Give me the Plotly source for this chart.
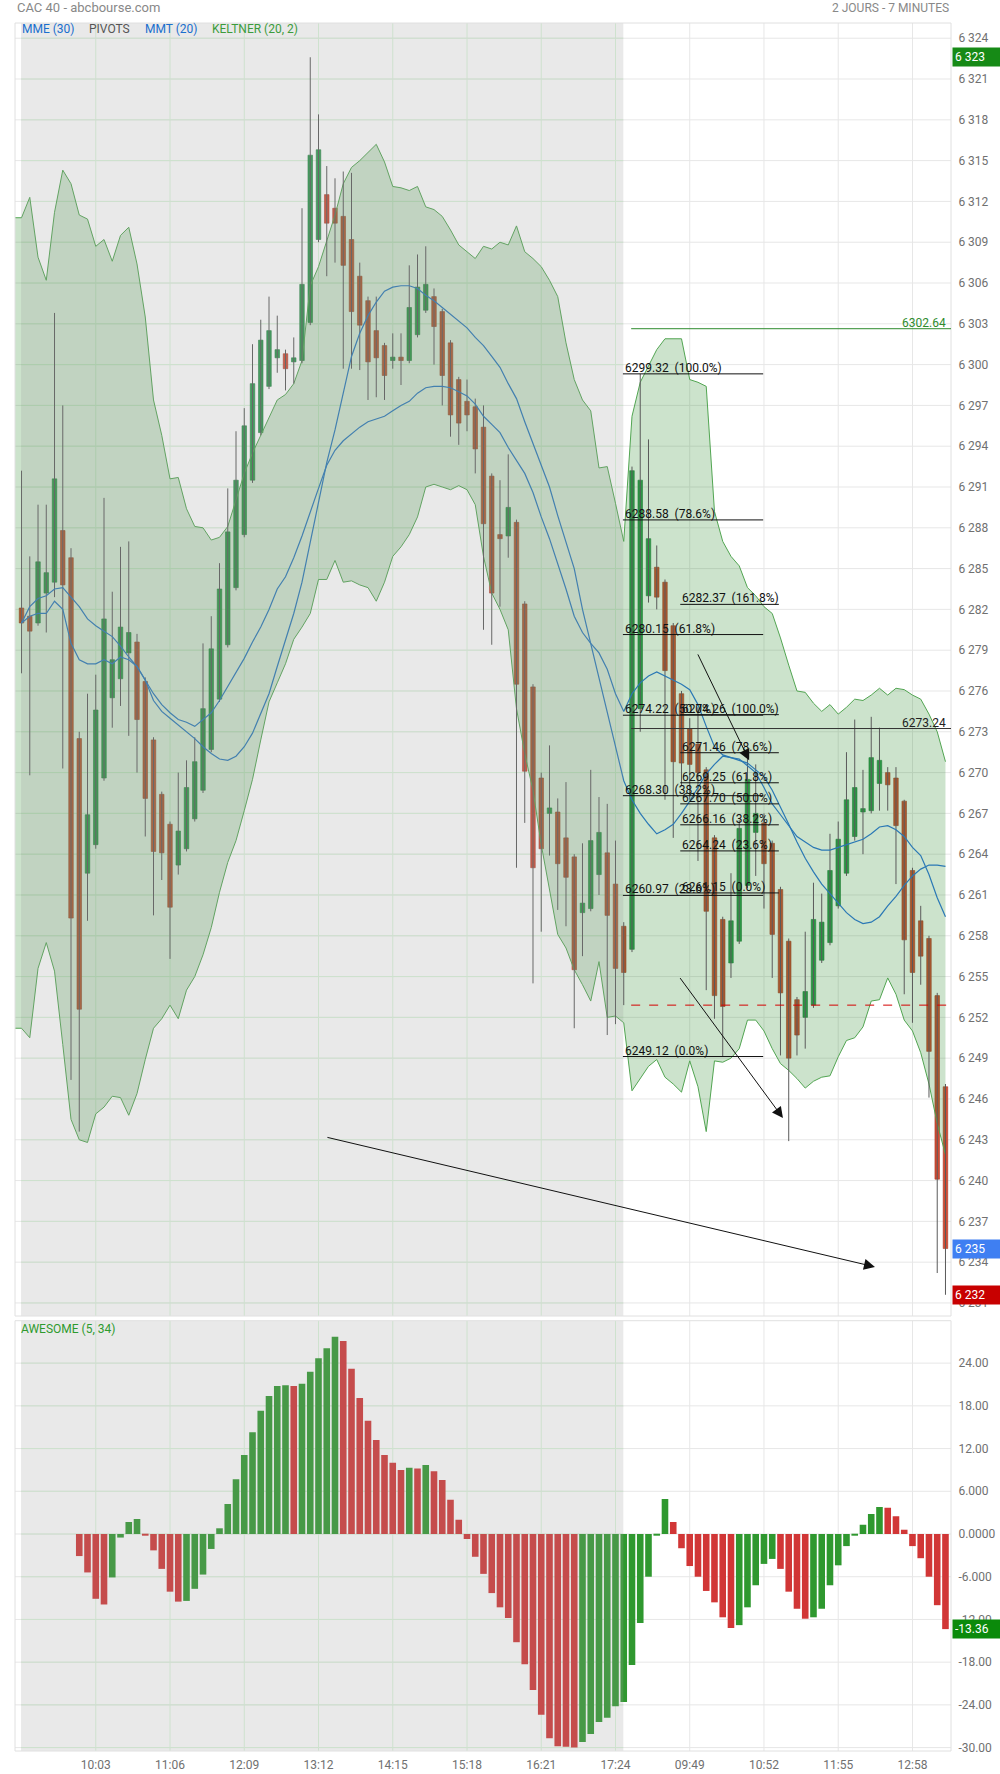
import plotly.graph_objects as go

# ---------------- data ----------------
time_labels = ["10:03", "11:06", "12:09", "13:12", "14:15", "15:18", "16:21", "17:24",
               "09:49", "10:52", "11:55", "12:58"]
time_pos = [9, 18, 27, 36, 45, 54, 63, 72, 81, 90, 99, 108]

opens = [6282.1, 6281.5, 6281.0, 6283.2, 6284.0, 6287.8, 6285.8, 6272.5, 6262.6, 6264.7,
         6269.6, 6275.5, 6276.9, 6278.8, 6279.6, 6276.7, 6272.4, 6268.4, 6266.2, 6263.2,
         6264.4, 6266.6, 6268.7, 6271.7, 6275.4, 6279.4, 6283.6, 6287.5, 6291.5, 6295.0,
         6298.4, 6300.5, 6300.8, 6300.2, 6300.3, 6303.1, 6309.2, 6312.5, 6311.5, 6310.9,
         6309.2, 6306.5, 6304.7, 6302.5, 6301.4, 6300.3, 6300.4, 6300.3, 6302.2, 6304.0,
         6305.0, 6303.9, 6301.6, 6298.9, 6297.3, 6296.9, 6295.4, 6291.8, 6287.5, 6287.4,
         6288.4, 6282.4, 6276.3, 6269.6, 6267.0, 6267.1, 6265.2, 6263.8, 6259.7, 6260.0,
         6262.5, 6264.1, 6261.8, 6258.7, 6257.0, 6274.7, 6283.0, 6285.1, 6284.0, 6280.8,
         6275.8, 6273.2, 6272.1, 6270.2, 6265.2, 6259.2, 6256.0, 6257.6, 6261.7, 6265.6,
         6266.3, 6264.8, 6261.4, 6257.6, 6253.3, 6252.0, 6252.9, 6256.2, 6257.5, 6260.2,
         6262.6, 6265.3, 6267.1, 6267.2, 6269.2, 6270.0, 6269.6, 6267.9, 6262.8, 6259.1,
         6257.8, 6253.6, 6246.9]
highs = [6292.2, 6285.9, 6289.7, 6289.7, 6303.8, 6297.0, 6286.5, 6273.0, 6275.8, 6277.2,
         6290.2, 6283.3, 6286.6, 6287.0, 6280.2, 6277.0, 6272.6, 6268.6, 6266.4, 6270.0,
         6270.9, 6272.6, 6279.5, 6281.5, 6285.4, 6290.9, 6295.1, 6296.8, 6301.5, 6303.3,
         6305.0, 6303.6, 6301.1, 6302.0, 6311.5, 6322.6, 6318.4, 6314.6, 6313.7, 6314.2,
         6314.1, 6307.5, 6305.0, 6305.0, 6301.6, 6302.3, 6302.3, 6307.3, 6308.1, 6308.7,
         6305.6, 6304.1, 6301.8, 6299.1, 6298.9, 6297.5, 6297.0, 6292.0, 6291.5, 6293.4,
         6288.6, 6282.6, 6276.5, 6270.0, 6272.0, 6268.1, 6269.3, 6264.0, 6264.8, 6270.2,
         6268.2, 6267.7, 6265.0, 6259.0, 6292.5, 6299.32, 6294.5, 6286.7, 6284.2, 6281.0,
         6276.0, 6274.0, 6274.8, 6270.4, 6265.4, 6259.4, 6262.6, 6266.5, 6271.4, 6270.6,
         6267.0, 6265.0, 6261.6, 6257.8, 6253.5, 6258.3, 6261.9, 6261.1, 6265.5, 6266.4,
         6271.5, 6273.9, 6270.2, 6274.1, 6273.3, 6270.4, 6270.4, 6268.0, 6263.0, 6260.2,
         6258.0, 6253.8, 6247.1]
lows = [6277.3, 6269.8, 6280.8, 6280.3, 6282.9, 6270.3, 6247.4, 6243.6, 6259.1, 6264.4,
        6269.4, 6273.3, 6274.9, 6272.7, 6270.0, 6265.3, 6259.5, 6262.1, 6256.3, 6262.5,
        6264.2, 6266.4, 6268.5, 6271.5, 6275.2, 6279.2, 6283.4, 6287.3, 6291.3, 6294.8,
        6298.2, 6299.4, 6298.1, 6298.6, 6300.1, 6302.9, 6309.0, 6306.5, 6307.5, 6299.7,
        6299.7, 6299.6, 6297.4, 6297.6, 6297.4, 6299.7, 6298.5, 6300.1, 6302.0, 6303.8,
        6300.0, 6297.0, 6294.7, 6294.1, 6295.1, 6292.0, 6280.5, 6279.4, 6282.2, 6285.8,
        6263.0, 6266.3, 6254.5, 6258.3, 6263.9, 6259.9, 6258.7, 6251.2, 6256.5, 6259.8,
        6261.0, 6250.7, 6251.5, 6252.9, 6256.8, 6273.0, 6282.5, 6282.0, 6268.0, 6265.2,
        6269.0, 6268.0, 6263.5, 6254.0, 6251.9, 6249.12, 6254.9, 6257.4, 6261.5, 6262.4,
        6260.0, 6254.9, 6249.2, 6242.9, 6249.2, 6249.7, 6252.7, 6256.0, 6257.3, 6260.0,
        6262.4, 6265.0, 6264.0, 6267.0, 6267.2, 6267.2, 6261.8, 6253.7, 6251.6, 6254.4,
        6246.1, 6233.2, 6231.6]
closes = [6281.0, 6280.4, 6285.5, 6284.7, 6291.6, 6283.8, 6259.3, 6252.6, 6266.9, 6274.6,
          6281.3, 6278.3, 6280.7, 6280.3, 6273.9, 6268.1, 6264.2, 6264.1, 6260.1, 6265.7,
          6268.9, 6270.8, 6274.7, 6279.1, 6283.5, 6287.7, 6291.5, 6295.5, 6298.6, 6301.8,
          6302.5, 6301.1, 6299.7, 6300.5, 6305.9, 6315.4, 6315.8, 6310.4, 6310.4, 6307.3,
          6303.9, 6302.9, 6300.2, 6300.5, 6299.2, 6300.4, 6300.3, 6304.2, 6305.7, 6305.9,
          6302.8, 6299.2, 6296.3, 6295.7, 6296.3, 6293.8, 6288.3, 6283.2, 6287.2, 6289.5,
          6276.5, 6270.1, 6263.0, 6264.4, 6267.4, 6263.3, 6262.3, 6255.5, 6260.4, 6265.0,
          6265.6, 6259.5, 6255.6, 6255.3, 6292.2, 6291.5, 6287.2, 6282.9, 6277.5, 6270.8,
          6270.7, 6270.6, 6270.0, 6259.8, 6253.6, 6252.8, 6259.1, 6265.9, 6269.5, 6267.0,
          6263.3, 6258.1, 6253.8, 6249.0, 6250.7, 6253.9, 6259.2, 6259.0, 6262.8, 6265.1,
          6268.0, 6268.9, 6267.3, 6271.1, 6270.9, 6269.1, 6266.1, 6257.7, 6255.3, 6256.5,
          6249.5, 6240.1, 6235.0]

keltner_up = [6310.8, 6312.3, 6307.9, 6306.2, 6311.2, 6314.3, 6313.3, 6311.0, 6310.7, 6308.7,
              6309.2, 6307.6, 6309.5, 6310.1, 6307.4, 6303.5, 6297.4, 6294.8, 6291.6, 6291.7,
              6289.4, 6288.1, 6288.0, 6287.1, 6287.3, 6288.1, 6290.0, 6292.0, 6293.5, 6294.8,
              6296.2, 6297.4, 6297.8, 6298.6, 6300.3, 6305.8, 6307.2, 6309.1, 6311.0, 6313.3,
              6314.5, 6315.0, 6315.6, 6316.2, 6314.9, 6313.1, 6313.0, 6312.8, 6313.1, 6311.6,
              6311.4, 6310.9, 6309.9, 6308.8, 6308.3, 6307.8, 6308.7, 6308.5, 6309.0, 6308.8,
              6310.2, 6308.3, 6307.8, 6307.2, 6306.2, 6305.0, 6301.6, 6298.9, 6297.4, 6296.6,
              6292.4, 6292.5, 6289.8, 6287.0, 6296.2, 6298.7, 6299.9, 6301.1, 6301.9, 6301.9,
              6301.9, 6298.9, 6298.7, 6298.4, 6289.2, 6287.0, 6285.9, 6285.2, 6283.6, 6283.0,
              6282.2, 6281.7, 6279.9, 6277.9, 6276.0, 6275.9, 6275.1, 6274.5, 6275.0, 6274.3,
              6274.8, 6275.4, 6275.3, 6275.7, 6276.2, 6275.7, 6276.2, 6276.1, 6275.7, 6275.4,
              6274.3, 6273.0, 6270.8]
keltner_lo = [6251.2, 6250.5, 6255.6, 6257.5, 6255.4, 6250.0, 6244.5, 6243.0, 6242.8, 6244.9,
              6245.4, 6246.2, 6246.1, 6244.8, 6246.4, 6248.9, 6251.2, 6251.9, 6252.9, 6251.9,
              6254.0, 6255.0, 6256.6, 6258.6, 6261.2, 6263.4, 6265.0, 6267.2, 6269.5, 6272.4,
              6275.2, 6276.6, 6278.0, 6279.8, 6280.7, 6281.7, 6284.2, 6284.2, 6285.6, 6284.0,
              6284.1, 6283.8, 6283.6, 6282.6, 6284.0, 6285.9, 6286.6, 6287.5, 6288.8, 6291.0,
              6291.2, 6291.0, 6290.8, 6291.1, 6290.8, 6289.7, 6285.9, 6283.2, 6282.0, 6280.5,
              6274.7, 6271.4, 6268.7, 6264.7, 6261.4, 6258.1, 6257.1, 6255.5, 6254.4, 6253.2,
              6256.1, 6252.0, 6252.1, 6251.6, 6246.6, 6247.5, 6248.4, 6248.9, 6247.6, 6247.1,
              6246.5, 6248.8, 6246.9, 6243.6, 6248.8, 6248.7, 6249.0, 6249.7, 6251.8, 6251.8,
              6251.0, 6249.7, 6248.6, 6248.1, 6247.5, 6246.8, 6247.3, 6247.6, 6247.7, 6249.1,
              6250.3, 6250.5, 6251.3, 6253.2, 6253.3, 6254.9, 6253.7, 6251.8, 6251.0, 6249.4,
              6247.1, 6244.2, 6241.9]
mme30 = [6281.0, 6282.2, 6282.8, 6283.0, 6283.5, 6283.6, 6282.9, 6282.2, 6281.3, 6280.8,
         6280.4, 6280.0, 6279.3, 6278.5, 6277.8, 6276.8, 6275.8, 6275.0, 6274.4, 6273.9,
         6273.7, 6273.4, 6273.9, 6274.4, 6275.3, 6276.3, 6277.4, 6278.4, 6279.6, 6280.7,
         6282.0, 6283.5, 6284.4, 6285.8, 6287.4, 6289.2, 6290.9, 6292.6, 6293.7, 6294.4,
         6294.9, 6295.4, 6295.8, 6296.0, 6296.2, 6296.6, 6297.0, 6297.3, 6297.9, 6298.3,
         6298.4, 6298.4, 6298.3, 6298.0, 6297.7, 6297.1, 6296.2, 6295.6, 6295.0, 6293.9,
         6292.9, 6292.0, 6290.6, 6288.8, 6287.2, 6285.4, 6283.5, 6281.5, 6280.3, 6279.5,
         6278.8, 6277.6, 6275.8, 6274.5, 6275.8, 6276.6, 6277.1, 6277.4, 6277.1, 6276.8,
         6276.5, 6276.1, 6275.0, 6273.4, 6271.9, 6271.3, 6271.1, 6270.9, 6270.7, 6270.2,
         6269.7, 6268.7, 6267.5, 6266.2, 6264.9, 6263.7, 6262.7, 6261.8, 6261.1, 6260.4,
         6259.7, 6259.2, 6258.9, 6259.0, 6259.4, 6260.2, 6260.9, 6261.7, 6262.4, 6262.9,
         6263.2, 6263.2, 6263.1]
mmt20 = [6281.0, 6281.5, 6281.7, 6281.7, 6282.6, 6282.0, 6279.5, 6278.3, 6278.0, 6278.0,
         6278.3, 6278.0, 6278.5, 6278.3, 6277.8, 6276.8, 6275.3, 6274.5, 6274.0, 6273.5,
         6273.0, 6272.5, 6271.9, 6271.4, 6271.0, 6270.9, 6271.2, 6271.9, 6272.9, 6274.4,
         6275.8, 6277.8, 6279.8, 6281.7, 6284.0, 6287.0, 6290.0, 6292.8, 6295.2, 6298.0,
         6300.6, 6302.3, 6303.6, 6304.6, 6305.4, 6305.7, 6305.8, 6305.8, 6305.6, 6305.1,
         6304.7, 6304.2, 6303.7, 6303.2, 6302.7, 6302.0, 6301.4, 6300.6, 6299.8, 6298.6,
         6297.5, 6295.8, 6294.2, 6292.6, 6291.0, 6288.9, 6287.0, 6285.0, 6282.0, 6279.5,
         6276.9, 6274.5, 6271.8, 6269.4, 6268.0, 6267.0, 6266.2, 6265.5, 6265.8, 6266.2,
         6267.0, 6267.9, 6268.9, 6269.9, 6270.6, 6271.2, 6271.1, 6271.0, 6270.5, 6270.0,
         6268.9, 6267.7, 6266.9, 6266.1, 6265.3, 6264.9, 6264.5, 6264.3, 6264.3, 6264.5,
         6264.7, 6264.9, 6265.1, 6265.5, 6266.0, 6266.1, 6265.8, 6265.3, 6264.5, 6263.9,
         6262.5, 6260.8, 6259.4]

ao_first = 7
ao_vals = [-3.1, -5.4, -9.1, -9.9, -6.1, -0.5, 1.7, 2.1, -0.2, -2.3,
           -4.9, -8.1, -9.5, -9.4, -7.7, -5.7, -2.1, 0.8, 4.2, 7.7,
           11.1, 14.3, 17.3, 19.4, 20.8, 20.9, 20.8, 21.1, 22.8, 24.7,
           26.1, 27.7, 27.1, 23.2, 19.1, 15.9, 13.2, 11.1, 10.0, 9.0,
           9.3, 9.2, 9.7, 8.8, 7.6, 4.8, 2.0, -0.7, -3.2, -5.6,
           -8.3, -10.3, -11.8, -15.2, -18.3, -21.9, -25.4, -28.7, -29.8, -29.9,
           -30.0, -29.2, -28.1, -26.4, -25.8, -24.2, -23.6, -18.4, -12.5, -6.0,
           -0.2, 4.9, 1.7, -2.0, -4.5, -6.0, -8.0, -9.6, -11.7, -13.2,
           -12.8, -10.3, -7.2, -4.2, -3.5, -4.9, -8.1, -10.5, -11.9, -11.7,
           -10.5, -7.2, -4.4, -1.7, -0.2, 1.3, 2.8, 3.8, 3.7, 2.5,
           0.6, -1.7, -3.4, -6.0, -10.0, -13.36]

fib1_levels = [6299.32, 6288.58, 6280.15, 6274.22, 6268.30, 6260.97, 6249.12]
fib1_pcts = ["100.0%", "78.6%", "61.8%", "50.0%", "38.2%", "23.6%", "0.0%"]
fib1_span = [72.9, 89.9]
fib2_levels = [6282.37, 6274.26, 6271.46, 6269.25, 6267.70, 6266.16, 6264.24, 6261.15]
fib2_pcts = ["161.8%", "100.0%", "78.6%", "61.8%", "50.0%", "38.2%", "23.6%", "0.0%"]
fib2_span = [79.85, 91.8]

level_high = 6302.64
level_mid = 6273.24
level_pivot = 6252.9
levels_start = 73.9

# arrows: (tail_x, tail_y, head_x, head_y)
arrows = [(36.9, 6243.2, 103.45, 6233.65),
          (79.7, 6255.0, 92.3, 6244.6),
          (81.9, 6278.8, 88.2, 6270.9)]

day1_span = [-0.06, 72.95]

# ---------------- geometry / style ----------------
X_RANGE = [-0.79, 112.67]
Y_MAIN = [6230.04, 6325.12]
Y_OSC = [-30.48, 29.96]
main_ticks = list(range(6231, 6325, 3))
osc_ticks = [-30, -24, -18, -12, -6, 0, 6, 12, 18, 24]
osc_ticktext = ["-30.00", "-24.00", "-18.00", "-12.00", "-6.000", "0.0000",
                "6.000", "12.00", "18.00", "24.00"]

FONT = "Roboto"
GREEN_C, GREEN_E = "#2e9b4f", "#23803f"
RED_C, RED_E = "#d24b33", "#a93a29"
BLUE = "#2a78b5"
KELT_LINE = "#52a552"
KELT_FILL = "rgba(35,132,35,0.23)"
GRID = "#e7e7e7"
GRID_D1 = "#dcf6dc"
OVERLAY = "rgba(157,157,157,0.224)"

n = len(opens)
idx = list(range(n))

fig = go.Figure()

# Keltner band
xb = [X_RANGE[0]] + idx
fig.add_trace(go.Scatter(x=xb, y=[keltner_up[0]] + keltner_up, mode="lines",
                         line=dict(color=KELT_LINE, width=1), hoverinfo="skip"))
fig.add_trace(go.Scatter(x=xb, y=[keltner_lo[0]] + keltner_lo, mode="lines",
                         line=dict(color=KELT_LINE, width=1), fill="tonexty",
                         fillcolor=KELT_FILL, hoverinfo="skip"))

# wicks
wx, wy = [], []
for i in idx:
    wx += [i, i, None]
    wy += [lows[i], highs[i], None]
fig.add_trace(go.Scatter(x=wx, y=wy, mode="lines", line=dict(color="#5a5a5a", width=1),
                         hoverinfo="skip"))

# bodies
bases, heights, cols, edges = [], [], [], []
for o, c in zip(opens, closes):
    bases.append(min(o, c))
    heights.append(max(abs(c - o), 0.25))
    up = c >= o
    cols.append(GREEN_C if up else RED_C)
    edges.append(GREEN_E if up else RED_E)
fig.add_trace(go.Bar(x=idx, y=heights, base=bases, width=0.55,
                     marker=dict(color=cols, line=dict(color=edges, width=0.6)),
                     hoverinfo="skip"))

# moving averages
fig.add_trace(go.Scatter(x=idx, y=mme30, mode="lines", line=dict(color=BLUE, width=1.2),
                         hoverinfo="skip"))
fig.add_trace(go.Scatter(x=idx, y=mmt20, mode="lines", line=dict(color=BLUE, width=1.2),
                         hoverinfo="skip"))

# Awesome oscillator
ao_x = list(range(ao_first, ao_first + len(ao_vals)))
ao_cols = []
for k, v in enumerate(ao_vals):
    ao_cols.append("#2f982f" if k > 0 and v > ao_vals[k - 1] else "#d13636")
fig.add_trace(go.Bar(x=ao_x, y=ao_vals, width=0.8, marker=dict(color=ao_cols, line=dict(width=0)),
                     yaxis="y2", hoverinfo="skip"))

# ---------------- shapes ----------------
shapes = []
for v in main_ticks:
    shapes.append(dict(type="line", xref="x", yref="y", x0=X_RANGE[0], x1=X_RANGE[1], y0=v, y1=v,
                       line=dict(color=GRID, width=1), layer="below"))
    shapes.append(dict(type="line", xref="x", yref="y", x0=day1_span[0], x1=day1_span[1], y0=v, y1=v,
                       line=dict(color=GRID_D1, width=1), layer="below"))
for v in osc_ticks:
    shapes.append(dict(type="line", xref="x", yref="y2", x0=X_RANGE[0], x1=X_RANGE[1], y0=v, y1=v,
                       line=dict(color=GRID, width=1), layer="below"))
    shapes.append(dict(type="line", xref="x", yref="y2", x0=day1_span[0], x1=day1_span[1], y0=v, y1=v,
                       line=dict(color=GRID_D1, width=1), layer="below"))
for t in time_pos:
    col = GRID_D1 if t <= day1_span[1] else GRID
    for yr in ["y domain", "y2 domain"]:
        shapes.append(dict(type="line", xref="x", yref=yr, x0=t, x1=t, y0=0, y1=1,
                           line=dict(color=col, width=1), layer="below"))

for yr in ["y domain", "y2 domain"]:
    shapes.append(dict(type="rect", xref="x", yref=yr, x0=day1_span[0], x1=day1_span[1], y0=0, y1=1,
                       fillcolor=OVERLAY, line=dict(width=0), layer="above"))
for yr in ["y domain", "y2 domain"]:
    shapes.append(dict(type="rect", xref="paper", yref=yr, x0=0, x1=1, y0=0, y1=1,
                       line=dict(color="#e0e0e0", width=1), layer="above"))

shapes.append(dict(type="line", xref="x", yref="y", x0=levels_start, x1=X_RANGE[1],
                   y0=level_high, y1=level_high, line=dict(color="#2e8b2e", width=1), layer="above"))
shapes.append(dict(type="line", xref="x", yref="y", x0=levels_start, x1=X_RANGE[1],
                   y0=level_mid, y1=level_mid, line=dict(color="#333333", width=1), layer="above"))
shapes.append(dict(type="line", xref="x", yref="y", x0=levels_start, x1=X_RANGE[1],
                   y0=level_pivot, y1=level_pivot, line=dict(color="#d40000", width=1, dash="dash"),
                   layer="above"))

for lv in fib1_levels:
    shapes.append(dict(type="line", xref="x", yref="y", x0=fib1_span[0], x1=fib1_span[1], y0=lv, y1=lv,
                       line=dict(color="#111111", width=1), layer="above"))
for lv in fib2_levels:
    shapes.append(dict(type="line", xref="x", yref="y", x0=fib2_span[0], x1=fib2_span[1], y0=lv, y1=lv,
                       line=dict(color="#111111", width=1), layer="above"))

# ---------------- annotations ----------------
PX_TOP, PX_BOT = 23, 1751


def py(px):
    return (PX_BOT - px) / (PX_BOT - PX_TOP)


def pxx(px):
    return (px - 15) / 936


ann = []
ann.append(dict(x=0, xref="paper", y=py(8), yref="paper", xanchor="left", yanchor="middle",
                text="CAC 40 - abcbourse.com", showarrow=False, font=dict(family=FONT, size=13, color="#888888")))
ann.append(dict(x=1, xref="paper", y=py(8), yref="paper", xanchor="right", yanchor="middle",
                text="2 JOURS - 7 MINUTES", showarrow=False, font=dict(family=FONT, size=12, color="#888888")))
legend_items = [("MME (30)", 20, "#1a6fce"), ("PIVOTS", 86.5, "#555555"),
                ("MMT (20)", 142.5, "#1a6fce"), ("KELTNER (20, 2)", 210, "#3c9c3c")]
for txt, px, col in legend_items:
    ann.append(dict(x=pxx(px), xref="paper", y=py(29), yref="paper", xanchor="left", yanchor="middle",
                    text=txt, showarrow=False, font=dict(family=FONT, size=12, color=col)))
ann.append(dict(x=pxx(19), xref="paper", y=py(1329), yref="paper", xanchor="left", yanchor="middle",
                text="AWESOME (5, 34)", showarrow=False, font=dict(family=FONT, size=12, color="#2e9a2e")))

for lv, pc in zip(fib1_levels, fib1_pcts):
    ann.append(dict(x=fib1_span[0], xref="x", y=lv, yref="y", xanchor="left", yanchor="bottom",
                    yshift=-3, text=f"{lv:.2f}\u00a0\u00a0({pc})", showarrow=False,
                    font=dict(family=FONT, size=12, color="#111111")))
for lv, pc in zip(fib2_levels, fib2_pcts):
    ann.append(dict(x=fib2_span[0], xref="x", y=lv, yref="y", xanchor="left", yanchor="bottom",
                    yshift=-3, text=f"{lv:.2f}\u00a0\u00a0({pc})", showarrow=False,
                    font=dict(family=FONT, size=12, color="#111111")))

ann.append(dict(x=1, xref="paper", xanchor="right", xshift=-3, y=level_high, yref="y", yanchor="bottom",
                yshift=-3, text=f"{level_high:.2f}", showarrow=False,
                font=dict(family=FONT, size=12, color="#2e8b2e")))
ann.append(dict(x=1, xref="paper", xanchor="right", xshift=-3, y=level_mid, yref="y", yanchor="bottom",
                yshift=-3, text=f"{level_mid:.2f}", showarrow=False,
                font=dict(family=FONT, size=12, color="#222222")))

for tx, ty, hx, hy in arrows:
    ann.append(dict(x=hx, y=hy, xref="x", yref="y", ax=tx, ay=ty, axref="x", ayref="y",
                    text="", showarrow=True, arrowhead=2, arrowsize=2.2, arrowwidth=1,
                    arrowcolor="#111111", standoff=0))


def fmt_price(v):
    return f"{int(round(v)):,}".replace(",", " ")


def vbox(y, yref, text, color):
    return dict(x=1, xref="paper", xanchor="left", xshift=1, y=y, yref=yref, yanchor="middle",
                text=text, showarrow=False, bgcolor=color, width=44, align="left", borderpad=2,
                font=dict(family=FONT, size=12, color="white"))


ann.append(vbox(max(highs), "y", fmt_price(max(highs)), "#168a16"))
ann.append(vbox(closes[-1], "y", fmt_price(closes[-1]), "#3f7ff2"))
ann.append(vbox(lows[-1], "y", fmt_price(lows[-1]), "#c80000"))
ann.append(vbox(ao_vals[-1], "y2", f"{ao_vals[-1]:.2f}", "#0b8a0b"))

fig.update_layout(
    width=1000, height=1774,
    margin=dict(l=15, r=49, t=PX_TOP, b=1774 - PX_BOT, autoexpand=False),
    plot_bgcolor="white", paper_bgcolor="white",
    showlegend=False, hovermode=False, barmode="overlay",
    font=dict(family=FONT, size=12, color="#707070"),
    xaxis=dict(domain=[0, 1], range=X_RANGE, anchor="y2", tickmode="array", tickvals=time_pos,
               ticktext=time_labels, showgrid=False, zeroline=False, showline=False,
               ticks="outside", ticklen=3, tickcolor="rgba(0,0,0,0)",
               tickfont=dict(family=FONT, size=12, color="#707070")),
    yaxis=dict(domain=[(PX_BOT - 1316) / (PX_BOT - PX_TOP), 1], range=Y_MAIN, side="right", anchor="x",
               tickmode="array", tickvals=main_ticks, ticktext=[fmt_price(v) for v in main_ticks],
               showgrid=False, zeroline=False, showline=False,
               ticks="outside", ticklen=4, tickcolor="rgba(0,0,0,0)",
               tickfont=dict(family=FONT, size=12, color="#707070")),
    yaxis2=dict(domain=[0, (PX_BOT - 1320.7) / (PX_BOT - PX_TOP)], range=Y_OSC, side="right", anchor="x",
                tickmode="array", tickvals=osc_ticks, ticktext=osc_ticktext,
                showgrid=False, zeroline=False, showline=False,
                ticks="outside", ticklen=4, tickcolor="rgba(0,0,0,0)",
                tickfont=dict(family=FONT, size=12, color="#707070")),
    shapes=shapes,
    annotations=ann,
)

fig.write_html("out.html", config={"displayModeBar": False},
               post_script="document.body.style.margin='0';document.body.style.overflow='hidden';")
